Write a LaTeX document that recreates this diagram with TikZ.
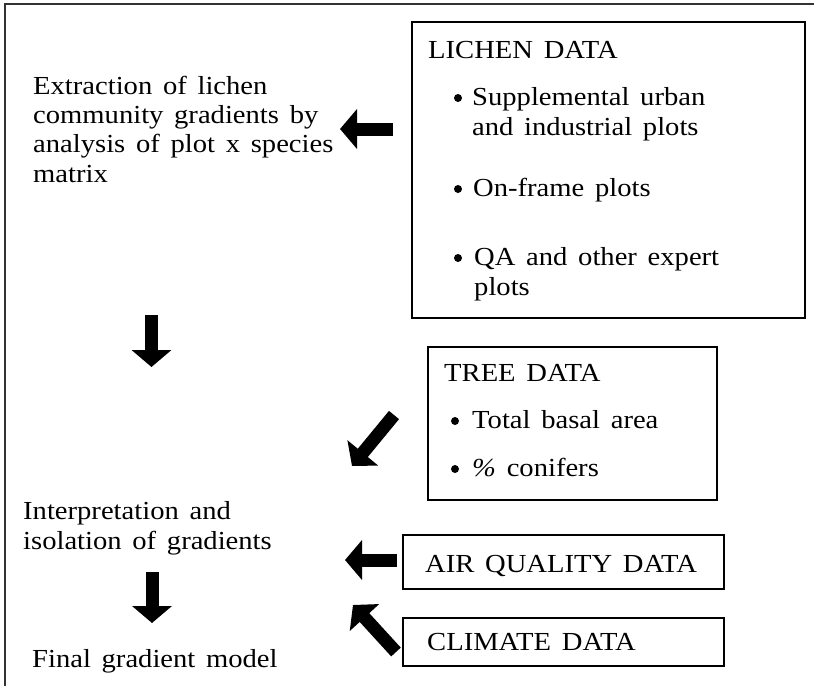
\documentclass[tikz,border=0pt]{standalone}
\usepackage{fontspec}
\setmainfont{Liberation Serif}[FakeStretch=1.1,WordSpace=1.5]
\usetikzlibrary{arrows.meta,fit}
\tikzset{
  fatarrow/.style={line width=13pt, -{Triangle[width=39pt,length=17pt]}},
  databox/.style={draw, line width=1.5pt, inner sep=0pt},
  txt/.style={anchor=base west, inner sep=0pt, align=left, font=\fontsize{26}{29.3}\selectfont}
}
\begin{document}
\begin{tikzpicture}[x=1pt,y=-1pt]
	\useasboundingbox (0,0) rectangle (814,686);
	\draw[line width=1.5pt, black!80] (5,686) -- (5,4) -- (814,4);
	% left column (multi-line nodes sit on their last line)
	\node[txt] (extract) at (33,182) {Extraction of lichen\\community gradients by\\analysis of plot x species\\matrix};
	\node[txt] (interp) at (23,549) {Interpretation and\\isolation of gradients};
	\node[txt] (final) at (32,667) {Final gradient model};
	% lichen data
	\node[databox, fit={(412,22) (805,318)}] (lichen) {};
	\node[txt] (lichentitle) at (428,58) {LICHEN DATA};
	\fill (458,98) circle (4pt);
	\fill (458,189) circle (4pt);
	\fill (458,258) circle (4pt);
	\node[txt] (urban) at (472,135) {Supplemental urban\\and industrial plots};
	\node[txt] (onframe) at (473,196) {On-frame plots};
	\node[txt] (expert) at (474,295) {QA and other expert\\plots};
	% tree data
	\node[databox, fit={(428,347) (717,500)}] (tree) {};
	\node[txt] (treetitle) at (444,381) {TREE DATA};
	\fill (455,421) circle (4pt);
	\fill (455,469) circle (4pt);
	\node[txt] (basal) at (472,428) {Total basal area};
	\node[txt] (conifers) at (472,476) {{\itshape\%} conifers};
	% air and climate
	\node[databox, fit={(403,535) (724,589)}] (air) {};
	\node[txt] (airtitle) at (425,572) {AIR QUALITY DATA};
	\node[databox, fit={(403,618) (724,666)}] (climate) {};
	\node[txt] (climatetitle) at (427,650) {CLIMATE DATA};
	% arrows
	\coordinate (lichenout) at (393,129);
	\coordinate (extractin) at (340,129);
	\coordinate (extractout) at (151.5,315);
	\coordinate (interpin) at (151.5,367);
	\coordinate (treeout) at (394,415);
	\coordinate (treein) at (352,466);
	\coordinate (airout) at (397,560);
	\coordinate (airin) at (345,560);
	\coordinate (climateout) at (396,652);
	\coordinate (climatein) at (353,605);
	\coordinate (interpout) at (152,572);
	\coordinate (finalin) at (152,623);
	\draw[fatarrow] (lichenout) -- (extractin);
	\draw[fatarrow] (extractout) -- (interpin);
	\draw[fatarrow] (treeout) -- (treein);
	\draw[fatarrow] (airout) -- (airin);
	\draw[fatarrow] (climateout) -- (climatein);
	\draw[fatarrow] (interpout) -- (finalin);
\end{tikzpicture}
\end{document}
